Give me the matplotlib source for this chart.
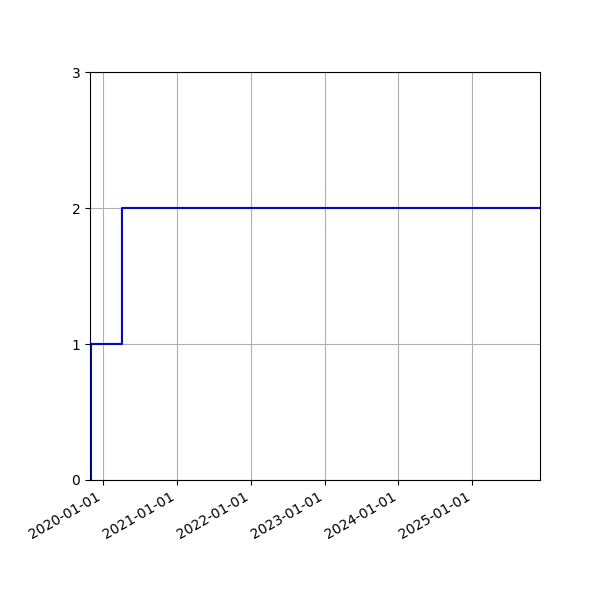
import matplotlib
matplotlib.use('Agg')
import matplotlib.pyplot as plt
import matplotlib.dates as mdates
import pandas as pd

# cumulative count over time
dates = pd.to_datetime(['2019-11-01', '2019-11-01', '2020-04-05', '2025-12-01'])
counts = [0, 1, 2, 2]
x_start = pd.Timestamp('2019-10-28')

fig, ax = plt.subplots(figsize=(6, 6), dpi=100)
ax.step(dates, counts, where='post', color='blue')
ax.set_xlim(x_start, dates[-1])
ax.set_ylim(0, 3)
ax.set_yticks([0, 1, 2, 3])
ax.xaxis.set_major_locator(mdates.YearLocator())
ax.xaxis.set_major_formatter(mdates.DateFormatter('%Y-%m-%d'))
ax.grid(True)
fig.autofmt_xdate()
fig.subplots_adjust(left=0.15, right=0.9, top=0.88, bottom=0.2)
fig.savefig('out.png')
